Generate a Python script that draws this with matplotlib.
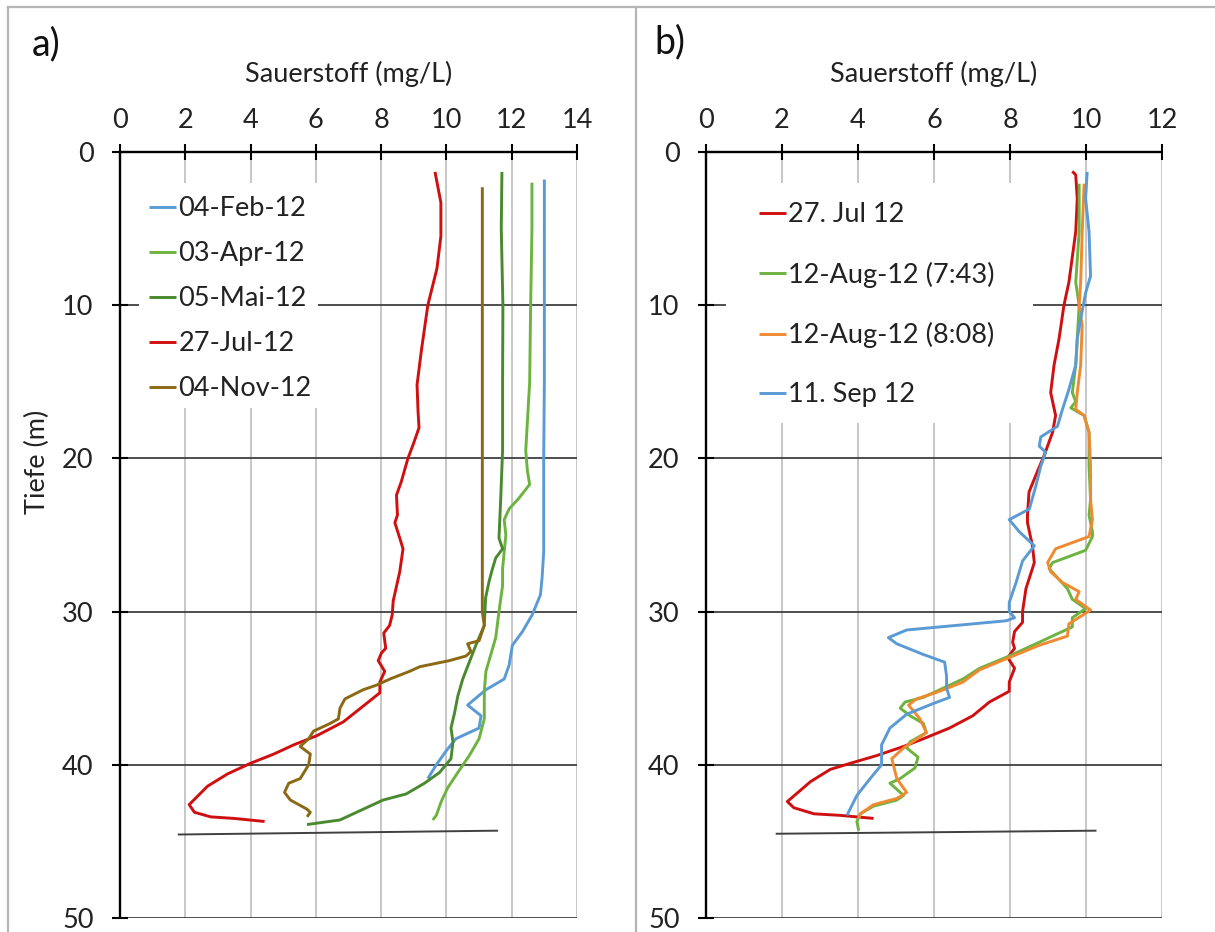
import matplotlib
matplotlib.use("Agg")
import matplotlib.pyplot as plt
from matplotlib.lines import Line2D
from matplotlib.patches import Rectangle

plt.rcParams['font.family'] = ['Lato', 'DejaVu Sans']

# ---------------- data: panel a ----------------
feb_depth = [1.8, 5, 10, 15, 20, 26.1, 27.8, 28.9, 30.2, 31.3, 32.2, 33.5, 34.4, 35.1, 36.1, 36.8, 37.6, 38.3, 39.1, 40.0, 40.9]
feb_o2 = [13.0, 13.0, 13.0, 13.0, 12.98, 12.98, 12.93, 12.88, 12.63, 12.33, 12.02, 11.92, 11.77, 11.21, 10.65, 11.06, 11.0, 10.29, 9.99, 9.69, 9.43]

apr_depth = [2.0, 5, 10, 15, 19.5, 20.8, 21.7, 22.6, 23.3, 24.0, 25.0, 26.1, 27.2, 28.3, 30.0, 31.7, 32.8, 33.9, 35.2, 37.0, 38.3, 39.4, 40.5, 41.5, 42.4, 43.3, 43.6]
apr_o2 = [12.62, 12.62, 12.58, 12.55, 12.43, 12.48, 12.55, 12.22, 11.92, 11.77, 11.82, 11.77, 11.72, 11.72, 11.61, 11.51, 11.36, 11.21, 11.16, 11.16, 11.0, 10.7, 10.35, 10.04, 9.84, 9.69, 9.58]

mai_depth = [1.3, 5, 10, 15, 19.5, 22.8, 25.2, 25.9, 26.5, 27.2, 28.0, 29.1, 30.9, 32.2, 33.3, 34.4, 35.5, 36.6, 37.6, 38.5, 39.6, 40.5, 41.2, 41.9, 42.3, 42.8, 43.6, 43.9]
mai_o2 = [11.7, 11.68, 11.73, 11.72, 11.72, 11.66, 11.61, 11.72, 11.51, 11.41, 11.31, 11.2, 11.16, 10.9, 10.7, 10.5, 10.35, 10.25, 10.14, 10.2, 10.14, 9.79, 9.33, 8.77, 8.06, 7.55, 6.74, 5.73]

jul_depth = [1.3, 3.3, 5.5, 7.6, 10, 13, 15.2, 16.9, 18.0, 19.1, 20.0, 21.5, 22.4, 23.7, 24.2, 25.2, 25.9, 27.4, 29.3, 30.2, 30.9, 31.4, 32.4, 32.7, 33.2, 33.9, 34.6, 35.3, 36.0, 37.2, 38.1, 38.7, 39.3, 39.9, 40.6, 41.4, 42.6, 43.1, 43.4, 43.5, 43.7]
jul_o2 = [9.65, 9.83, 9.83, 9.71, 9.43, 9.23, 9.1, 9.13, 9.16, 8.98, 8.82, 8.62, 8.47, 8.5, 8.42, 8.57, 8.67, 8.57, 8.37, 8.34, 8.26, 8.08, 8.14, 8.01, 7.91, 8.11, 7.96, 7.96, 7.55, 6.84, 6.03, 5.32, 4.71, 4.0, 3.29, 2.68, 2.12, 2.28, 2.78, 3.49, 4.43]

nov_depth = [2.3, 10, 20, 30, 30.9, 31.9, 32.1, 32.6, 32.9, 33.2, 33.6, 33.9, 34.4, 34.8, 35.1, 35.7, 36.3, 37.0, 37.3, 37.8, 38.3, 38.8, 39.3, 40.0, 40.9, 41.2, 41.8, 42.3, 42.9, 43.1, 43.4]
nov_o2 = [11.1, 11.1, 11.1, 11.1, 11.16, 11.0, 10.65, 10.75, 10.6, 10.09, 9.18, 8.87, 8.27, 7.86, 7.45, 6.89, 6.74, 6.69, 6.44, 5.93, 5.78, 5.52, 5.83, 5.78, 5.52, 5.17, 5.04, 5.22, 5.73, 5.83, 5.73]

labels_a = ['04-Feb-12', '03-Apr-12', '05-Mai-12', '27-Jul-12', '04-Nov-12']
colors_a = ['#5B9BD5', '#6DB33F', '#4A8A2E', '#D01010', '#8B6914']
bottom_a_x = [1.8, 11.55]
bottom_a_y = [44.55, 44.3]

# ---------------- data: panel b ----------------
jul_b_depth = [1.26, 1.5, 3.05, 5.2, 8.5, 10.0, 12.2, 13.9, 15.7, 17.2, 18.3, 19.8, 21.1, 22.2, 23.7, 24.2, 25.7, 26.8, 28.5, 30.0, 30.7, 31.3, 32.0, 32.4, 33.0, 33.7, 34.6, 35.2, 35.9, 36.8, 37.6, 38.3, 38.8, 39.4, 39.9, 40.3, 41.1, 42.4, 42.8, 43.2, 43.3, 43.5]
jul_b_o2 = [9.64, 9.73, 9.77, 9.73, 9.55, 9.42, 9.29, 9.16, 9.07, 9.2, 9.12, 8.9, 8.68, 8.5, 8.46, 8.46, 8.59, 8.64, 8.42, 8.33, 8.33, 8.12, 8.07, 8.12, 7.94, 8.12, 7.98, 7.98, 7.46, 7.02, 6.41, 5.72, 5.2, 4.49, 3.8, 3.27, 2.75, 2.14, 2.31, 2.84, 3.53, 4.41]

aug1_depth = [2.07, 5.2, 8.5, 10.0, 12.2, 13.9, 15.7, 16.3, 16.7, 17.2, 18.3, 20.5, 22.7, 23.7, 24.8, 25.1, 26.0, 26.8, 27.2, 27.9, 28.5, 29.2, 29.8, 30.4, 31.0, 31.5, 32.0, 32.9, 33.7, 34.4, 35.0, 35.6, 35.9, 36.3, 36.8, 37.3, 37.9, 38.5, 38.9, 39.5, 40.2, 40.9, 41.2, 41.6, 42.0, 42.3, 42.7, 43.2, 43.7, 44.3]
aug1_o2 = [9.82, 9.82, 9.73, 9.82, 9.77, 9.73, 9.64, 9.73, 9.6, 9.95, 10.08, 10.08, 10.12, 10.08, 10.17, 10.17, 9.99, 9.12, 9.03, 9.29, 9.51, 9.64, 9.99, 9.64, 9.64, 9.2, 8.77, 7.98, 7.2, 6.76, 6.24, 5.72, 5.24, 5.11, 5.37, 5.72, 5.8, 5.37, 5.28, 5.58, 5.5, 5.11, 4.84, 5.02, 5.2, 5.02, 4.41, 4.06, 3.97, 4.02]

aug2_depth = [2.07, 5.2, 8.5, 10.0, 11.3, 13.9, 15.7, 16.8, 17.2, 18.3, 20.5, 22.7, 24.0, 25.1, 25.9, 26.8, 27.4, 28.1, 28.7, 29.2, 29.9, 30.8, 31.6, 32.2, 33.0, 33.8, 34.6, 35.2, 35.7, 36.1, 37.0, 37.9, 38.9, 39.6, 40.9, 41.8, 42.2, 42.6, 43.2, 43.5]
aug2_o2 = [9.95, 9.9, 9.86, 9.82, 9.9, 9.86, 9.77, 9.73, 9.95, 10.08, 10.12, 10.12, 10.17, 10.08, 9.2, 8.99, 9.07, 9.38, 9.82, 9.73, 10.12, 9.55, 9.51, 8.77, 7.98, 7.2, 6.76, 6.15, 5.54, 5.33, 5.63, 5.8, 5.2, 4.89, 5.02, 5.28, 5.02, 4.41, 4.06, 4.02]

sep_depth = [1.3, 3.05, 5.2, 8.1, 9.2, 10.9, 12.2, 13.9, 15.5, 16.8, 17.9, 18.6, 19.2, 19.6, 20.5, 21.8, 23.3, 24.0, 24.8, 25.7, 26.7, 28.1, 29.4, 30.0, 30.4, 30.6, 30.9, 31.2, 31.7, 32.1, 32.8, 33.3, 34.2, 35.0, 35.6, 36.0, 36.7, 37.6, 38.7, 40.0, 40.9, 42.0, 43.3]
sep_o2 = [10.03, 9.99, 10.08, 10.12, 9.99, 9.86, 9.77, 9.73, 9.55, 9.38, 9.25, 8.81, 8.77, 8.94, 8.81, 8.68, 8.51, 7.98, 8.25, 8.64, 8.33, 8.16, 7.98, 7.98, 8.12, 7.9, 6.59, 5.28, 4.8, 5.02, 5.72, 6.28, 6.33, 6.33, 6.41, 5.98, 5.28, 4.84, 4.62, 4.62, 4.32, 3.97, 3.71]

labels_b = ['27. Jul 12', '12-Aug-12 (7:43)', '12-Aug-12 (8:08)', '11. Sep 12']
colors_b = ['#D01010', '#6DB33F', '#F08A30', '#5B9BD5']
bottom_b_x = [1.86, 10.25]
bottom_b_y = [44.5, 44.3]

depth_ticks = [0, 10, 20, 30, 40, 50]

# ---------------- figure ----------------
W, H = 1215, 932
fig = plt.figure(figsize=(W / 100, H / 100), dpi=100)
FS = 19.5


def fx(px):
    return px / W


def fy(py):
    return 1 - py / H


def style_axes(ax, xmax):
    ax.set_xlim(0, xmax)
    ax.set_ylim(50, 0)
    ax.set_xticks(range(0, xmax + 1, 2))
    ax.set_yticks(depth_ticks)
    ax.xaxis.tick_top()
    ax.xaxis.set_label_position('top')
    for s in ['right', 'bottom']:
        ax.spines[s].set_visible(False)
    for s in ['top', 'left']:
        ax.spines[s].set_linewidth(1.7)
        ax.spines[s].set_color('black')
        ax.spines[s].set_capstyle('butt')
    ax.set_axisbelow(True)
    ax.xaxis.grid(True, color='#bdbdbd', linewidth=1.2)
    ax.yaxis.grid(True, color='#404040', linewidth=1.3)
    ax.tick_params(axis='x', direction='inout', length=12, width=1.5, pad=8,
                   labelsize=FS, colors='black', labelcolor='#222222')
    ax.tick_params(axis='y', direction='inout', length=12, width=1.5, pad=13,
                   labelsize=FS, colors='black', labelcolor='#222222')
    ax.set_xlabel('Sauerstoff (mg/L)', fontsize=FS, color='#222222')
    ax.xaxis.set_label_coords(0.5, 1 + (152 - 74) / 766)
    ax.xaxis.label.set_verticalalignment('center')


# panel a
axa = fig.add_axes([fx(120), fy(918), (577 - 120) / W, 766 / H])
style_axes(axa, 14)
series_a = [(feb_o2, feb_depth), (apr_o2, apr_depth), (mai_o2, mai_depth),
            (jul_o2, jul_depth), (nov_o2, nov_depth)]
for (xv, yv), lab, col in zip(series_a, labels_a, colors_a):
    axa.plot(xv, yv, color=col, lw=2.1, label=lab, zorder=3, solid_capstyle='butt')
axa.plot(bottom_a_x, bottom_a_y, color='#404040', lw=1.4, zorder=3)
axa.set_ylabel('Tiefe (m)', fontsize=FS, color='#222222')
axa.yaxis.set_label_coords((37 - 120) / 457, 1 - (462 - 152) / 766)
axa.yaxis.label.set_verticalalignment('center')
# white legend backdrop
axa.add_patch(Rectangle(((139 - 120) / 457, 1 - (408 - 152) / 766),
                        (318 - 139) / 457, (408 - 183) / 766,
                        transform=axa.transAxes, facecolor='white',
                        edgecolor='none', zorder=1))
leg_a = axa.legend(loc='upper left', bbox_to_anchor=((149 - 120) / 457, 1 - (196 - 152) / 766),
                   borderaxespad=0, borderpad=0, frameon=False, fontsize=FS,
                   handlelength=1.0, handletextpad=0.08, labelspacing=0.74)
for t in leg_a.get_texts():
    t.set_color('#222222')

# panel b
axb = fig.add_axes([fx(706), fy(918), (1162 - 706) / W, 766 / H])
style_axes(axb, 12)
series_b = [(jul_b_o2, jul_b_depth), (aug1_o2, aug1_depth), (aug2_o2, aug2_depth),
            (sep_o2, sep_depth)]
for (xv, yv), lab, col in zip(series_b, labels_b, colors_b):
    axb.plot(xv, yv, color=col, lw=2.1, label=lab, zorder=3, solid_capstyle='butt')
axb.plot(bottom_b_x, bottom_b_y, color='#404040', lw=1.4, zorder=3)
axb.add_patch(Rectangle(((726 - 706) / 456, 1 - (423 - 152) / 766),
                        (1033 - 726) / 456, (423 - 183) / 766,
                        transform=axb.transAxes, facecolor='white',
                        edgecolor='none', zorder=1))
leg_b = axb.legend(loc='upper left', bbox_to_anchor=((759 - 706) / 456, 1 - (202 - 152) / 766),
                   borderaxespad=0, borderpad=0, frameon=False, fontsize=FS,
                   handlelength=1.0, handletextpad=0.08, labelspacing=1.27)
for t in leg_b.get_texts():
    t.set_color('#222222')

# panel letters
fig.text(fx(46), fy(44), 'a)', fontsize=27, ha='center', va='center', color='#111111')
fig.text(fx(670), fy(42), 'b)', fontsize=27, ha='center', va='center', color='#111111')

# panel frames
frame_kw = dict(color='#b5b5b5', lw=1.6, transform=fig.transFigure)
fig.add_artist(Line2D([fx(8), 1], [fy(7), fy(7)], **frame_kw))
fig.add_artist(Line2D([fx(8), fx(8)], [fy(7), 0], **frame_kw))
fig.add_artist(Line2D([fx(636), fx(636)], [fy(7), 0], **frame_kw))

fig.savefig('out.png', dpi=100, facecolor='white')
